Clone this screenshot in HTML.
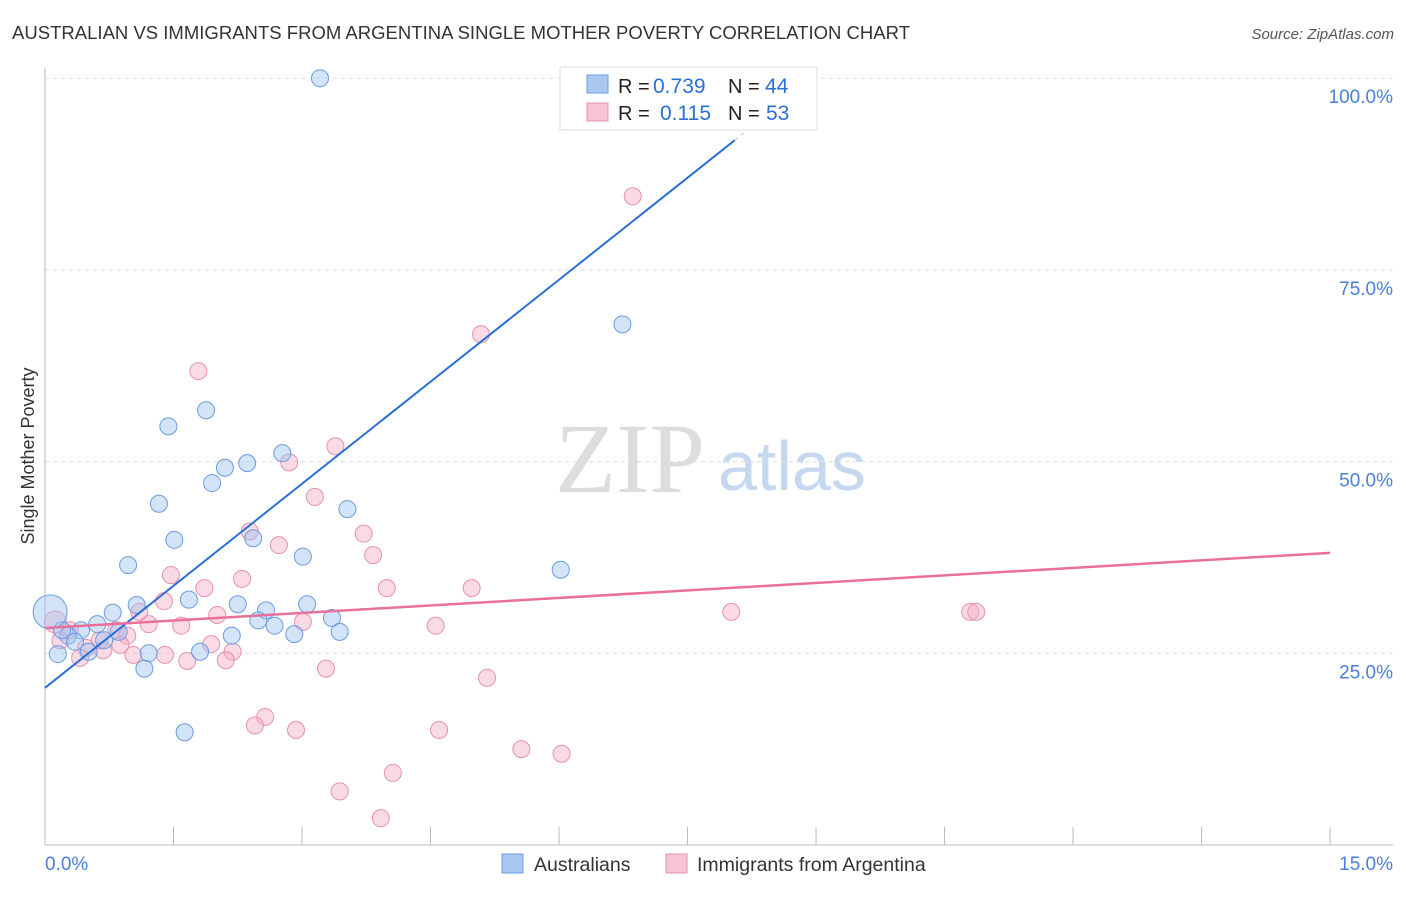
<!DOCTYPE html>
<html><head><meta charset="utf-8"><style>
body{margin:0;background:#fff;font-family:"Liberation Sans",sans-serif;}
</style></head><body>
<svg id="c" width="1406" height="892" xmlns="http://www.w3.org/2000/svg">
<text x="12" y="39" font-size="18.5" fill="#333" textLength="898">AUSTRALIAN VS IMMIGRANTS FROM ARGENTINA SINGLE MOTHER POVERTY CORRELATION CHART</text>
<text x="1394" y="39" font-size="15" fill="#555" font-style="italic" text-anchor="end">Source: ZipAtlas.com</text>
<text x="0" y="0" transform="translate(34,456) rotate(-90)" font-size="18" fill="#333" text-anchor="middle">Single Mother Poverty</text>
<text x="555" y="492" font-size="100" fill="#ddd" font-family="Liberation Serif,serif">ZIP</text>
<text x="718" y="490" font-size="70" fill="#c5d8f0">atlas</text>
<g id="grid"></g><g id="pts"></g><g id="lines"></g>
<g>
<rect x="560" y="67" width="257" height="63" fill="#fff" stroke="#ddd"/>
<rect x="587" y="75" width="21" height="18" fill="#a9c7ef" stroke="#6a9de0"/>
<rect x="587" y="103" width="21" height="18" fill="#f8c4d3" stroke="#e891ad"/>
<text x="618" y="93" font-size="20" fill="#222">R =</text>
<text x="653" y="93" font-size="21" fill="#2a6fd6">0.739</text>
<text x="728" y="93" font-size="20" fill="#222">N =</text>
<text x="765" y="93" font-size="21" fill="#2a6fd6">44</text>
<text x="618" y="120" font-size="20" fill="#222">R =</text>
<text x="660" y="120" font-size="21" fill="#2a6fd6">0.115</text>
<text x="728" y="120" font-size="20" fill="#222">N =</text>
<text x="766" y="120" font-size="21" fill="#2a6fd6">53</text>
</g>
<g>
<rect x="502" y="854" width="21" height="19" fill="#a9c7ef" stroke="#6a9de0"/>
<text x="534" y="871" font-size="19.5" fill="#333">Australians</text>
<rect x="666" y="854" width="21" height="19" fill="#f8c4d3" stroke="#e891ad"/>
<text x="697" y="871" font-size="19.5" fill="#333">Immigrants from Argentina</text>
</g>
</svg>
<script>
const blueX=[3.21,6.19,6.48,7.65,6.74,6.02,1.88,1.44,1.33,1.51,0.97,2.10,1.95,2.36,2.77,2.43,3.01,3.53,1.68,2.25,2.58,3.06,3.35,3.44,2.49,2.68,2.91,2.18,1.07,0.79,0.61,0.42,0.27,0.15,0.51,0.69,0.86,1.21,1.16,1.81,1.63,0.35,0.20,0.06];
const blueY=[100,100,100,100,67.9,35.9,56.7,54.6,44.5,39.8,36.5,49.2,47.2,49.8,51.1,40.0,37.6,43.8,32.0,31.4,30.6,31.4,29.6,27.8,29.3,28.6,27.5,27.3,31.3,30.3,28.8,28.0,27.3,24.9,25.2,26.7,27.8,25.0,23.0,25.2,14.7,26.5,28.0,30.4];
const pinkX=[6.86,5.09,1.79,3.39,2.85,3.15,2.39,2.73,3.72,3.83,1.47,2.30,1.86,3.99,4.98,1.39,2.01,3.01,1.59,1.21,0.83,0.96,1.10,8.01,10.80,10.87,4.56,1.94,2.19,1.03,0.68,0.48,0.41,2.11,1.66,3.28,5.16,2.57,2.45,2.93,4.60,5.56,6.03,4.06,3.44,3.92,0.12,0.29,0.64,0.88,1.40,0.18];
const pinkY=[84.6,66.6,61.8,52.0,49.9,45.4,40.9,39.1,40.6,37.8,35.2,34.7,33.5,33.5,33.5,31.8,30.0,29.1,28.6,28.8,28.0,27.3,30.4,30.4,30.4,30.4,28.6,26.2,25.2,24.8,25.4,25.7,24.4,24.1,24.0,23.0,21.8,16.7,15.6,15.0,15.0,12.5,11.9,9.4,7.0,3.5,29.1,28.0,26.7,26.1,24.8,26.7];
const blueLine=[[0,20.5],[8.05,91.9]];
const blueExt=[8.05,8.9];
const pinkLine=[[0,28.3],[15,38.1]];
const yTicks=[25,50,75,100];
const xTickVals=[0,1.5,3,4.5,6,7.5,9,10.5,12,13.5,15];
const NS="http://www.w3.org/2000/svg";
const sx=v=>45+v*85.67, sy=v=>845-v*7.668;
function mk(p,t,a){const e=document.createElementNS(NS,t);for(const k in a)e.setAttribute(k,a[k]);p.appendChild(e);return e;}
const g=document.getElementById('grid');
let ax=mk(g,'line',{x1:45,y1:68,x2:45,y2:845,stroke:'#bbb'});


let bx=mk(g,'line',{x1:45,y1:845,x2:1393,y2:845,stroke:'#bbb'});


yTicks.forEach(v=>{
 const l=mk(g,'line',{x1:45,y1:sy(v),x2:1393,y2:sy(v),stroke:'#ddd','stroke-dasharray':'4,4'});
 
 
 const t=mk(g,'text',{x:1393,y:sy(v)+25,'font-size':19,fill:'#4a7fd9','text-anchor':'end'});
 t.textContent=v.toFixed(1)+'%';
 
 
});
xTickVals.forEach(v=>{
 const l=mk(g,'line',{x1:sx(v),y1:827,x2:sx(v),y2:845,stroke:'#bbb'});
 
 
});
[[0,'0.0%','start',45],[15,'15.0%','end',1393]].forEach(d=>{
 const t=mk(g,'text',{x:d[3],y:870,'font-size':19,fill:'#4a7fd9','text-anchor':d[2]});
 t.textContent=d[1];
 
 
});
const P=document.getElementById('pts');
pinkX.forEach((x,i)=>{
 const c=mk(P,'circle',{cx:sx(x),cy:sy(pinkY[i]),r:i==46?11:8.5,fill:'rgba(245,175,198,0.45)',stroke:'#e891ad','stroke-width':1});
 
 
});
blueX.forEach((x,i)=>{
 const c=mk(P,'circle',{cx:sx(x),cy:sy(blueY[i]),r:i==43?17:8.5,fill:'rgba(160,196,240,0.45)',stroke:'#6a9de0','stroke-width':1});
 
 
});
const L=document.getElementById('lines');
const slope=(blueLine[1][1]-blueLine[0][1])/(blueLine[1][0]-blueLine[0][0]);
let b=mk(L,'line',{x1:sx(blueLine[0][0]),y1:sy(blueLine[0][1]),x2:sx(blueLine[1][0]),y2:sy(blueLine[1][1]),stroke:'#2a6fd6','stroke-width':2});


let bd=mk(L,'line',{x1:sx(blueExt[0]),y1:sy(blueLine[0][1]+slope*blueExt[0]),x2:sx(blueExt[1]),y2:sy(blueLine[0][1]+slope*blueExt[1]),stroke:'#2a6fd6','stroke-width':1,'stroke-dasharray':'4,4',opacity:0.4});


let p=mk(L,'line',{x1:sx(pinkLine[0][0]),y1:sy(pinkLine[0][1]),x2:sx(pinkLine[1][0]),y2:sy(pinkLine[1][1]),stroke:'#e8709a','stroke-width':2.5});


</script>
</body></html>
